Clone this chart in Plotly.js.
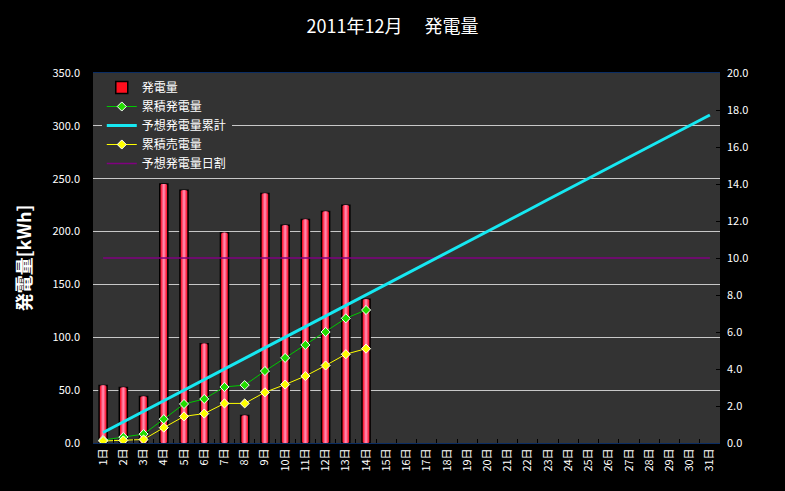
<!DOCTYPE html>
<html>
<head>
<meta charset="utf-8">
<script src="https://cdn.plot.ly/plotly-3.0.1.min.js"></script>
<style>
  html, body { margin: 0; padding: 0; background: #000; }
  #chart { width: 785px; height: 491px; }
</style>
</head>
<body>
<div id="chart"></div>
<script>
// day labels 1日 .. 31日
const days = ['1日','2日','3日','4日','5日','6日','7日','8日','9日','10日',
    '11日','12日','13日','14日','15日','16日','17日','18日','19日','20日',
    '21日','22日','23日','24日','25日','26日','27日','28日','29日','30日','31日'];

// daily generation [kWh], days 1-14
const daily = [54.5, 52.5, 44, 245, 239, 94, 199, 26, 236, 206, 211.5, 219, 225, 136];

// right axis series
const cumGen = [0.16, 0.32, 0.48, 1.29, 2.11, 2.38, 3.03, 3.13, 3.89, 4.60, 5.30, 6.00, 6.74, 7.19];
const cumSold = [0.11, 0.14, 0.19, 0.83, 1.44, 1.59, 2.14, 2.14, 2.74, 3.16, 3.62, 4.19, 4.80, 5.10];
const forecastCum = [0.57, 1.14, 1.72, 2.29, 2.86, 3.43, 4.00, 4.58, 5.15, 5.72,
    6.29, 6.86, 7.44, 8.01, 8.58, 9.15, 9.72, 10.30, 10.87, 11.44,
    12.01, 12.58, 13.16, 13.73, 14.30, 14.87, 15.44, 16.02, 16.59, 17.16, 17.73];
const forecastDaily = [10, 10, 10, 10, 10, 10, 10, 10, 10, 10,
    10, 10, 10, 10, 10, 10, 10, 10, 10, 10,
    10, 10, 10, 10, 10, 10, 10, 10, 10, 10, 10];

const genDays = days.slice(0, daily.length);
const font = '"Noto Sans CJK JP", "Noto Sans", sans-serif';

// fake the red/pink gradient with narrower bars stacked on top
const barLayers = [
    { width: 0.4, color: '#ff0f1e', line: { color: '#000', width: 1.5 } },
    { width: 0.27, color: '#ff3050', line: { width: 0 } },
    { width: 0.17, color: '#ff5c80', line: { width: 0 } },
    { width: 0.08, color: '#ff88aa', line: { width: 0 } }
];

const traces = barLayers.map((b, i) => ({
    type: 'bar',
    name: '発電量',
    x: genDays,
    y: daily,
    width: b.width,
    marker: { color: b.color, line: b.line },
    showlegend: i === 0,
    legendrank: 1,
    hoverinfo: 'skip'
}));

traces.push({
    type: 'scatter',
    mode: 'lines',
    name: '予想発電量日割',
    x: days,
    y: forecastDaily,
    yaxis: 'y2',
    line: { color: '#800080', width: 1.5 },
    legendrank: 5
});

traces.push({
    type: 'scatter',
    mode: 'lines',
    name: '予想発電量累計',
    x: days,
    y: forecastCum,
    yaxis: 'y2',
    line: { color: '#16e8f2', width: 3 },
    legendrank: 3
});

traces.push({
    type: 'scatter',
    mode: 'lines+markers',
    name: '累積発電量',
    x: genDays,
    y: cumGen,
    yaxis: 'y2',
    line: { color: '#00c800', width: 1 },
    marker: { symbol: 'diamond', color: '#22dd00', size: 7, line: { color: '#fff', width: 1 } },
    legendrank: 2
});

traces.push({
    type: 'scatter',
    mode: 'lines+markers',
    name: '累積売電量',
    x: genDays,
    y: cumSold,
    yaxis: 'y2',
    line: { color: '#ffff00', width: 1 },
    marker: { symbol: 'diamond', color: '#ffff00', size: 7, line: { color: '#fff', width: 1 } },
    legendrank: 4
});

const layout = {
    width: 785,
    height: 491,
    paper_bgcolor: '#000',
    plot_bgcolor: '#333333',
    font: { family: font, color: '#fff', size: 11 },
    margin: { l: 93, r: 65, t: 73, b: 48 },
    barmode: 'overlay',
    title: {
        text: '2011年12月\u3000 発電量',
        x: 0.5, xanchor: 'center',
        y: 0.945, yanchor: 'middle',
        font: { family: font, size: 18, color: '#fff' }
    },
    xaxis: {
        type: 'category',
        categoryarray: days,
        range: [-0.5, 30.5],
        tickangle: -90,
        ticks: 'inside',
        tickson: 'boundaries',
        ticklen: 4,
        tickcolor: '#000',
        showgrid: false,
        showline: true,
        linecolor: '#0b2d63',
        linewidth: 1,
        mirror: true,
        tickfont: { size: 11, color: '#fff' },
        fixedrange: true
    },
    yaxis: {
        range: [0, 350],
        dtick: 50,
        tickformat: '.1f',
        showgrid: true,
        gridcolor: '#c8c8c8',
        gridwidth: 1,
        zeroline: false,
        ticks: 'inside',
        ticklen: 5,
        tickcolor: '#c8c8c8',
        ticklabelstandoff: 12,
        tickfont: { size: 11, color: '#fff' },
        title: {
            text: '発電量[kWh]',
            standoff: 16,
            font: { family: font, size: 18, color: '#fff', weight: 'bold' }
        }
    },
    yaxis2: {
        overlaying: 'y',
        side: 'right',
        range: [0, 20],
        dtick: 2,
        tickformat: '.1f',
        showgrid: false,
        zeroline: false,
        ticks: 'inside',
        ticklen: 4,
        tickcolor: '#000',
        ticklabelstandoff: 6,
        tickfont: { size: 11, color: '#fff' }
    },
    legend: {
        x: 0.014, xanchor: 'left',
        y: 1, yanchor: 'top',
        bgcolor: '#333333',
        borderwidth: 0,
        font: { family: font, size: 12, color: '#fff' },
        traceorder: 'normal'
    }
};

Plotly.newPlot('chart', traces, layout, { staticPlot: true, displayModeBar: false });
</script>
</body>
</html>
